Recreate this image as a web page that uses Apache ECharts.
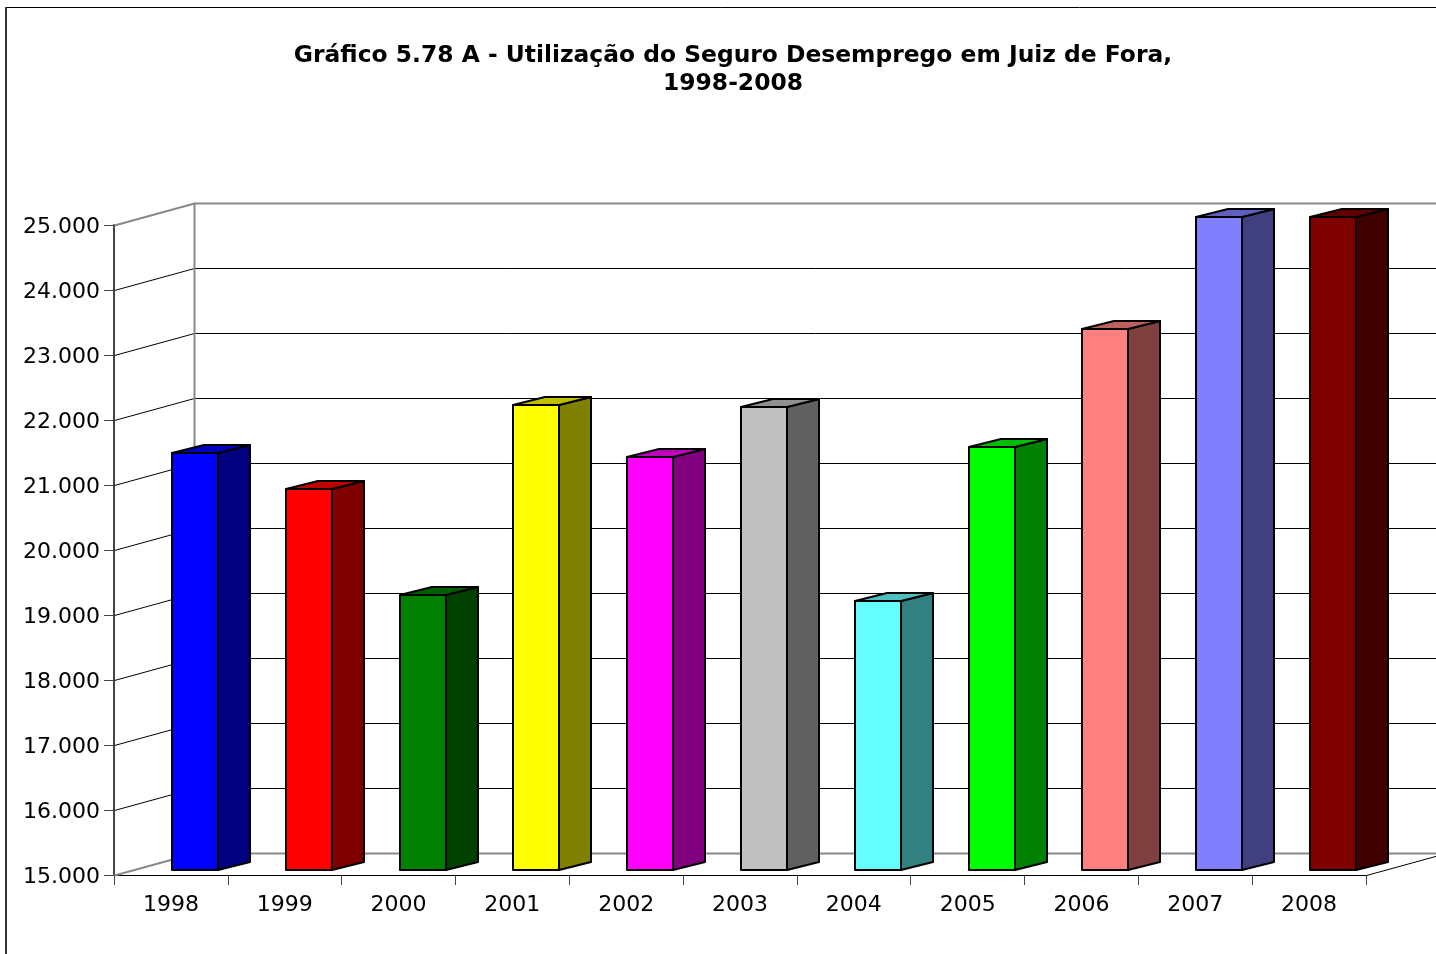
<!DOCTYPE html>
<html>
<head>
<meta charset="utf-8">
<title>Gráfico 5.78 A</title>
<script src="https://cdn.jsdelivr.net/npm/echarts@6/dist/echarts.min.js"></script>
<style>
  html, body { margin: 0; padding: 0; background: #fff; overflow: hidden; }
  #chart { width: 1436px; height: 954px; }
</style>
</head>
<body>
<div id="chart"></div>
<script>
  var titleText = 'Gráfico 5.78 A - Utilização do Seguro Desemprego em Juiz de Fora,\n1998-2008';
  var categories = ['1998', '1999', '2000', '2001', '2002', '2003', '2004', '2005', '2006', '2007', '2008'];
  var values = [21415, 20860, 19230, 22150, 21350, 22120, 19140, 21510, 23320, 25040, 25040];
  var barColors = ['#0000ff', '#ff0000', '#008000', '#ffff00', '#ff00ff', '#c0c0c0', '#66ffff', '#00ff00', '#ff8080', '#8080ff', '#800000'];
  var yTicks = [15000, 16000, 17000, 18000, 19000, 20000, 21000, 22000, 23000, 24000, 25000];

  var fontName = '"DejaVu Sans", Verdana, sans-serif';
  // profundidade da parede do fundo e das barras, em pixels
  var wallDx = 80, wallDy = 22;
  var barDx = 32, barDy = 8, barLift = 5, barShift = 1, barWidth = 46;

  // escurece a cor da barra para as faces lateral e de cima
  function shade(hex, k) {
    var out = '#';
    for (var i = 1; i < 7; i += 2) {
      var c = Math.round(parseInt(hex.substr(i, 2), 16) * k).toString(16);
      out += c.length < 2 ? '0' + c : c;
    }
    return out;
  }

  function px(v) {
    return Math.round(v) + 0.5;
  }

  function renderWall(params, api) {
    var tick = api.value(0);
    var edge = tick === yTicks[0] || tick === yTicks[yTicks.length - 1];
    var y = px(api.coord([0, tick])[1]);
    var x0 = px(params.coordSys.x);
    return {
      type: 'polyline',
      shape: { points: [[x0, y], [x0 + wallDx, y - wallDy], [api.getWidth() + 10, y - wallDy]] },
      style: { fill: null, stroke: edge ? '#888888' : '#000000', lineWidth: edge ? 2 : 1 }
    };
  }

  function renderBar(params, api) {
    var i = api.value(0);
    var left = Math.round(api.coord([i, yTicks[0]])[0]) + barShift;
    var right = left + barWidth;
    var bottom = Math.round(api.coord([i, yTicks[0]])[1]) - barLift;
    var top = Math.round(api.coord([i, api.value(1)])[1]) - barLift;
    var color = barColors[i];
    var line = { stroke: '#000000', lineWidth: 2, lineJoin: 'round' };
    return {
      type: 'group',
      children: [
        {
          type: 'polygon',
          shape: { points: [[right, top], [right + barDx, top - barDy], [right + barDx, bottom - barDy], [right, bottom]] },
          style: Object.assign({ fill: shade(color, 0.5) }, line)
        },
        {
          type: 'polygon',
          shape: { points: [[left, top], [right, top], [right + barDx, top - barDy], [left + barDx, top - barDy]] },
          style: Object.assign({ fill: shade(color, 0.75) }, line)
        },
        {
          type: 'rect',
          shape: { x: left, y: top, width: barWidth, height: bottom - top },
          style: Object.assign({ fill: color }, line)
        }
      ]
    };
  }

  function renderFloorEdge(params, api) {
    var rect = params.coordSys;
    var x = px(rect.x + rect.width);
    var y = px(rect.y + rect.height);
    return {
      type: 'group',
      children: [
        {
          type: 'polyline',
          shape: { points: [[x, y], [x + wallDx, y - wallDy]] },
          style: { fill: null, stroke: '#000000', lineWidth: 1 }
        },
        {
          type: 'line',
          shape: { x1: px(rect.x + wallDx), y1: rect.y - wallDy, x2: px(rect.x + wallDx), y2: rect.y + rect.height - wallDy },
          style: { stroke: '#888888', lineWidth: 2 }
        }
      ]
    };
  }

  var chart = echarts.init(document.getElementById('chart'));
  chart.setOption({
    backgroundColor: '#ffffff',
    animation: false,
    textStyle: { fontFamily: fontName },
    title: {
      text: titleText,
      left: 728,
      top: 37,
      textAlign: 'center',
      textStyle: { fontFamily: fontName, fontSize: 23.4, fontWeight: 'bold', color: '#000', lineHeight: 28 }
    },
    graphic: [
      {
        type: 'rect',
        silent: true,
        z: 0,
        shape: { x: 6.5, y: 7.5, width: 1600, height: 1200 },
        style: { fill: null, stroke: '#000000', lineWidth: 1 }
      },
      {
        type: 'line',
        silent: true,
        z: 0,
        shape: { x1: 6, y1: 7, x2: 6, y2: 954 },
        style: { stroke: '#333333', lineWidth: 2 }
      }
    ],
    grid: { left: 114, right: 70, top: 225, bottom: 79 },
    xAxis: {
      type: 'category',
      data: categories,
      boundaryGap: true,
      axisLine: { lineStyle: { color: '#000000', width: 1 } },
      axisTick: { show: true, length: 10, lineStyle: { color: '#444444' } },
      axisLabel: { fontSize: 22, color: '#000', margin: 19 },
      splitLine: { show: false }
    },
    yAxis: {
      type: 'value',
      min: 15000,
      max: 25000,
      interval: 1000,
      axisLine: { show: true, lineStyle: { color: '#444444', width: 2 } },
      axisTick: { show: true, length: 10, lineStyle: { color: '#444444' } },
      axisLabel: {
        color: '#000',
        margin: 14,
        formatter: function (v) {
          return '{n|' + String(v).replace(/\B(?=(\d{3})+$)/g, '.') + '}';
        },
        rich: {
          n: { fontFamily: fontName, fontSize: 22, color: '#000', padding: [4, 0, 0, 0] }
        }
      },
      splitLine: { show: false }
    },
    series: [
      {
        type: 'custom',
        name: 'parede',
        z: 1,
        silent: true,
        clip: false,
        renderItem: renderWall,
        data: yTicks.map(function (t) { return [t]; }),
        encode: { y: 0 }
      },
      {
        type: 'custom',
        name: 'contorno',
        z: 1,
        silent: true,
        clip: false,
        renderItem: renderFloorEdge,
        data: [[0]]
      },
      {
        type: 'custom',
        name: 'Seguro Desemprego',
        z: 2,
        clip: false,
        renderItem: renderBar,
        data: values.map(function (v, i) { return [i, v]; }),
        encode: { x: 0, y: 1 }
      }
    ]
  });
</script>
</body>
</html>
